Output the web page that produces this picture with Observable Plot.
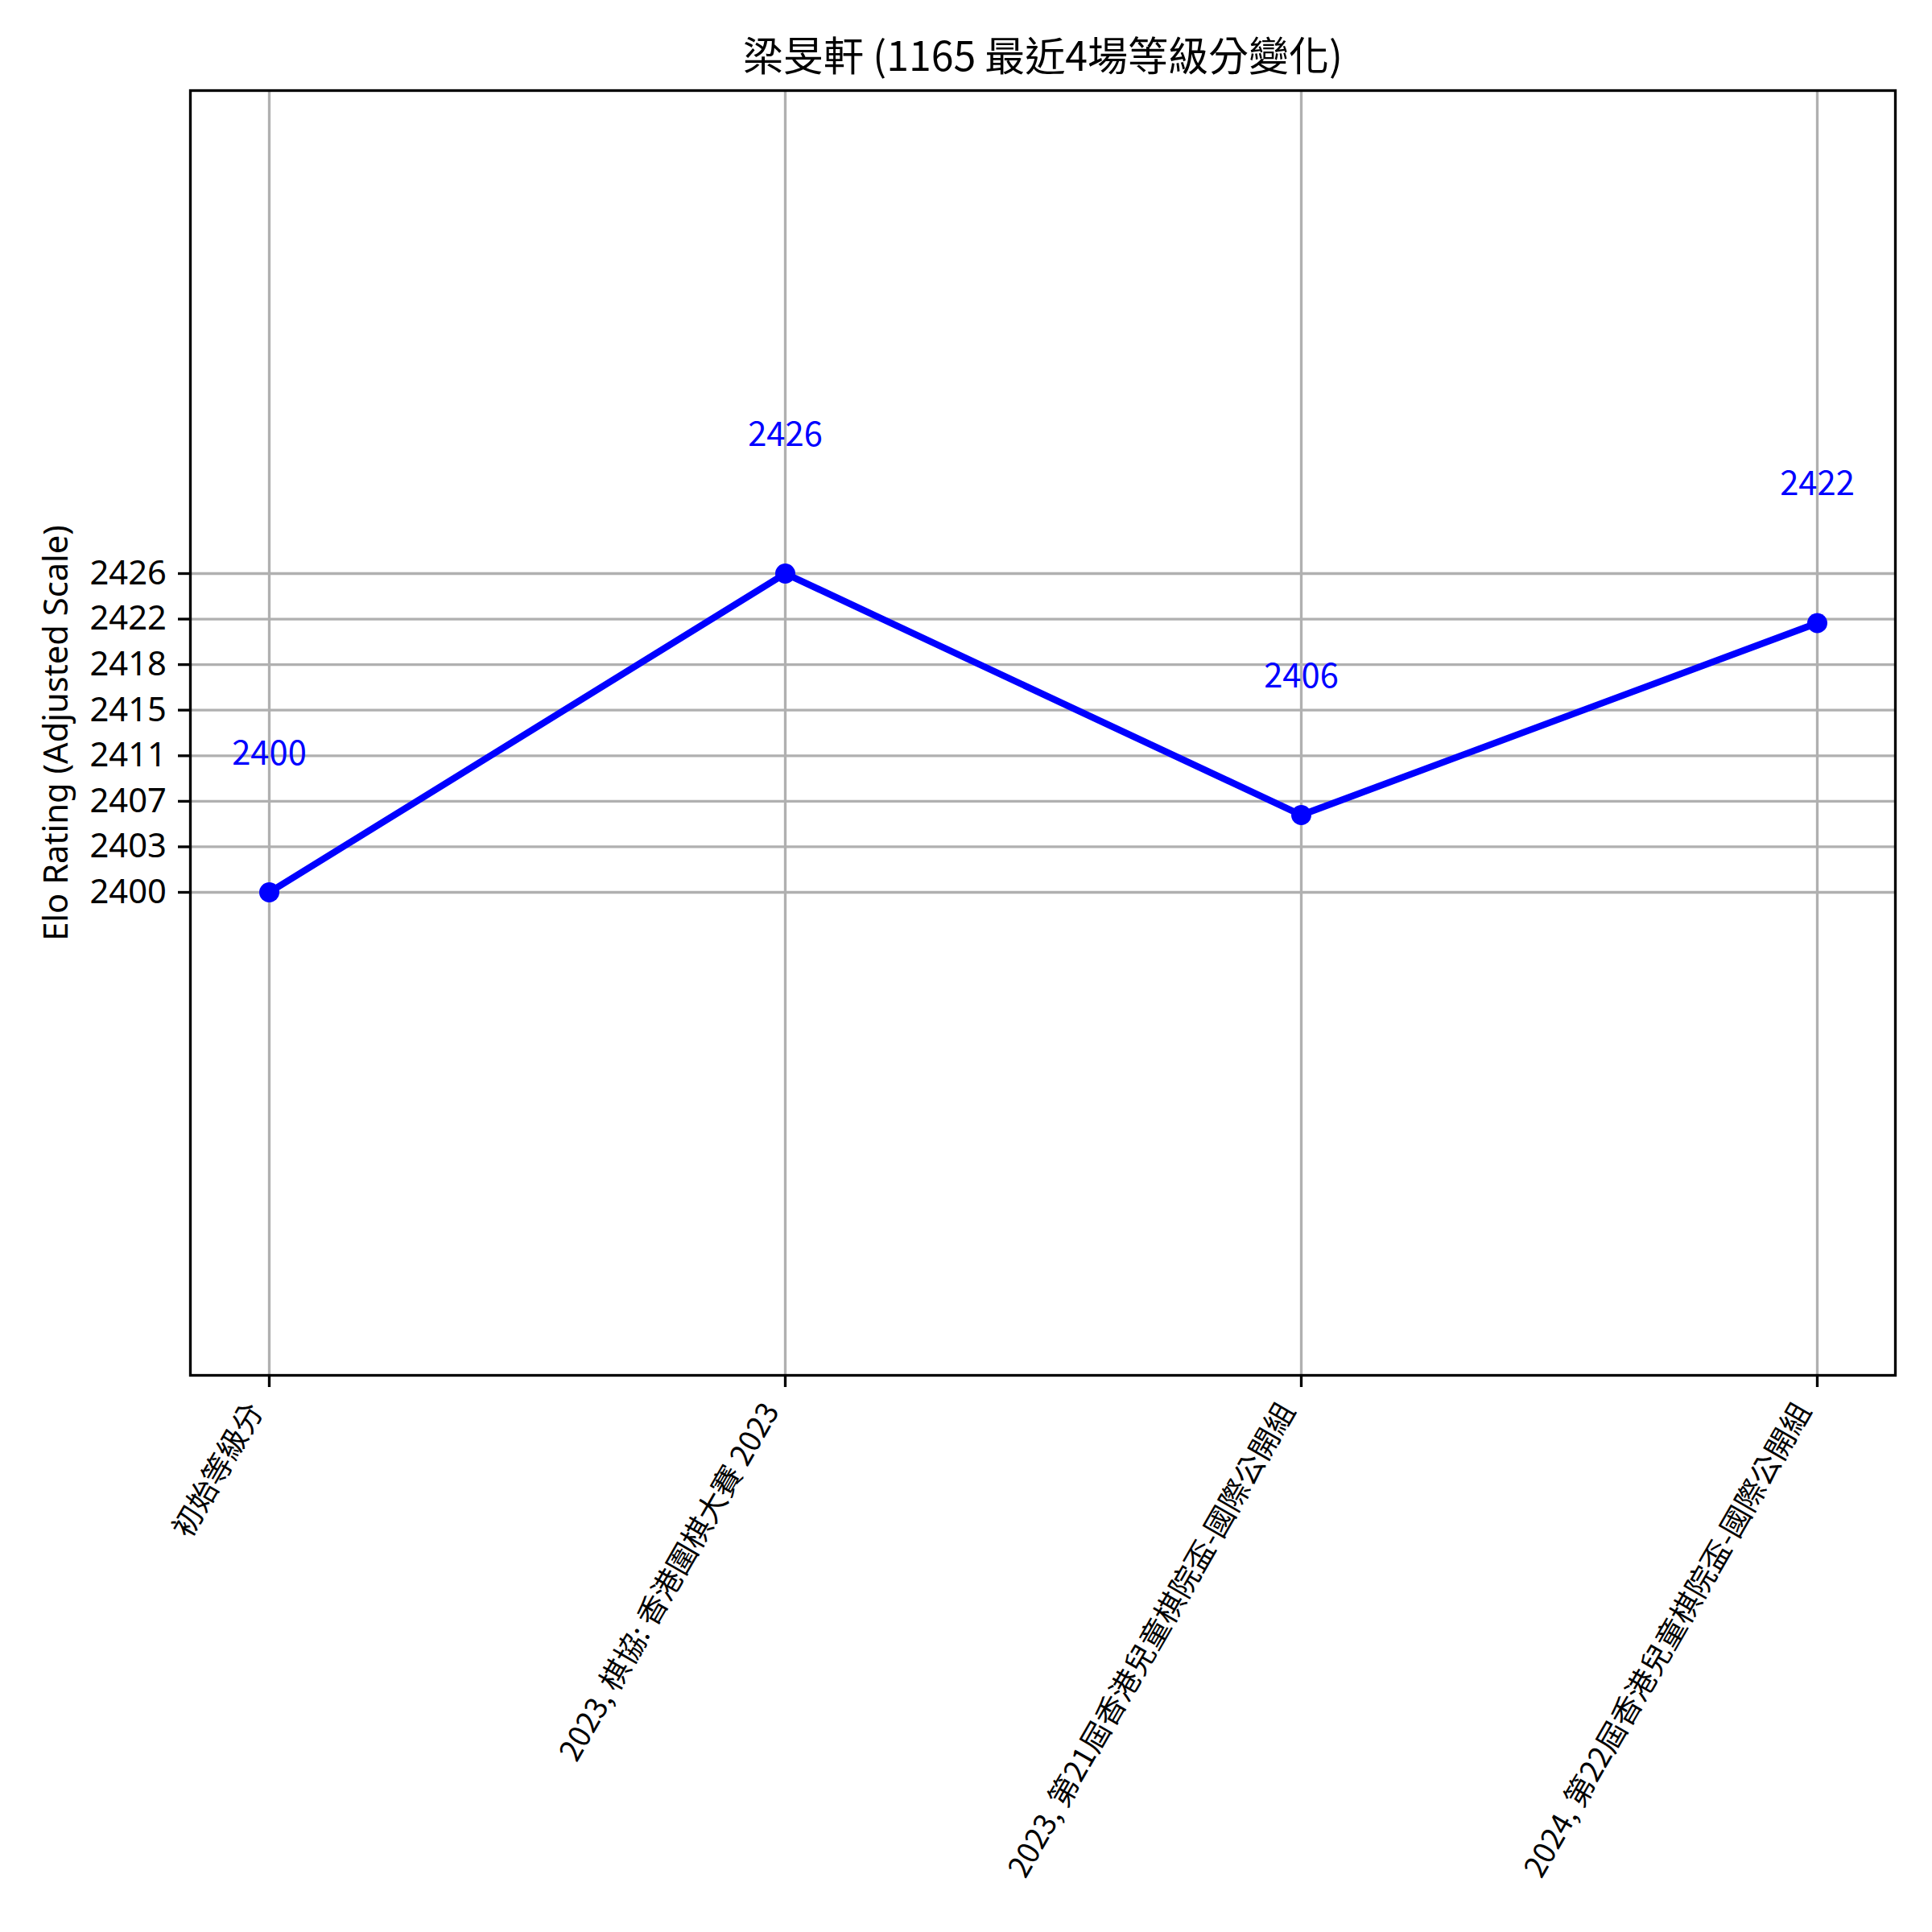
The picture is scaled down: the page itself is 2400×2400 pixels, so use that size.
<!DOCTYPE html>
<html>
<head>
<meta charset="utf-8">
<script src="https://cdn.jsdelivr.net/npm/d3@7"></script>
<script src="https://cdn.jsdelivr.net/npm/@observablehq/plot@0.6"></script>
<style>
  html, body { margin: 0; padding: 0; background: #ffffff; }
</style>
</head>
<body>
<div id="chart"></div>
<script>
// ---- data ----
const titleText = "梁旻軒 (1165 最近4場等級分變化)";
const yLabelText = "Elo Rating (Adjusted Scale)";
const events = [
  "初始等級分",
  "2023, 棋協: 香港圍棋大賽 2023",
  "2023, 第21屆香港兒童棋院盃-國際公開組",
  "2024, 第22屆香港兒童棋院盃-國際公開組"
];
const ratings = [2400, 2426.4, 2406.4, 2422.3];
const ratingLabels = ["2400", "2426", "2406", "2422"];
const yTicks = [2400, 2403.77, 2407.54, 2411.31, 2415.09, 2418.86, 2422.63, 2426.4];
const yTickLabels = ["2400", "2403", "2407", "2411", "2415", "2418", "2422", "2426"];
const yDomain = [2360, 2466.4];

const data = events.map((e, i) => ({event: e, rating: ratings[i], label: ratingLabels[i]}));

const CJK = "'Noto Sans CJK TC', 'Noto Sans CJK SC', sans-serif";
const LATIN = "'Noto Sans', 'Open Sans', sans-serif";
const LW = 3.33; // 0.8pt at 300dpi

const chart = Plot.plot({
  width: 2400,
  height: 2400,
  marginLeft: 236,
  marginRight: 46,
  marginTop: 112,
  marginBottom: 692,
  style: {background: "#ffffff", fontFamily: LATIN, fontSize: "41.7px", color: "black"},
  x: {type: "point", domain: events, padding: 0.15, align: 0.5, axis: null},
  y: {domain: yDomain, axis: null},
  marks: [
    Plot.gridX({stroke: "#b0b0b0", strokeOpacity: 1, strokeWidth: LW}),
    Plot.gridY(yTicks, {stroke: "#b0b0b0", strokeOpacity: 1, strokeWidth: LW}),
    Plot.line(data, {x: "event", y: "rating", stroke: "#0000ff", strokeWidth: 8.33}),
    Plot.dot(data, {x: "event", y: "rating", r: 12.5, fill: "#0000ff", stroke: null}),
    Plot.text(data, {
      x: "event", y: "rating", text: "label",
      dy: -159, lineAnchor: "bottom", textAnchor: "middle",
      fill: "#0000ff", fontSize: 41.7, fontFamily: CJK
    }),
    Plot.frame({stroke: "black", strokeWidth: LW}),
    Plot.axisY({
      ticks: yTicks,
      tickFormat: d => yTickLabels[yTicks.indexOf(d)],
      tickSize: 15, tickPadding: 14.6, strokeWidth: LW,
      fontSize: 41.7, fontFamily: LATIN, label: null
    }),
    Plot.axisX({
      tickSize: 15, strokeWidth: LW, tickFormat: () => "", label: null
    }),
    Plot.text(data, {
      x: "event", text: "event", frameAnchor: "bottom",
      rotate: -60, textAnchor: "end", lineAnchor: "middle",
      dx: -16.7, dy: 38,
      fill: "black", fontSize: 37, fontFamily: CJK
    }),
    Plot.text([yLabelText], {
      frameAnchor: "left", rotate: -90, dx: -166, lineAnchor: "middle",
      textAnchor: "middle", fill: "black", fontSize: 41.7, fontFamily: LATIN
    }),
    Plot.text([titleText], {
      frameAnchor: "top", dy: -25, lineAnchor: "bottom", textAnchor: "middle",
      fill: "black", fontSize: 50, fontFamily: CJK
    })
  ]
});

document.getElementById("chart").appendChild(chart);
</script>
</body>
</html>
